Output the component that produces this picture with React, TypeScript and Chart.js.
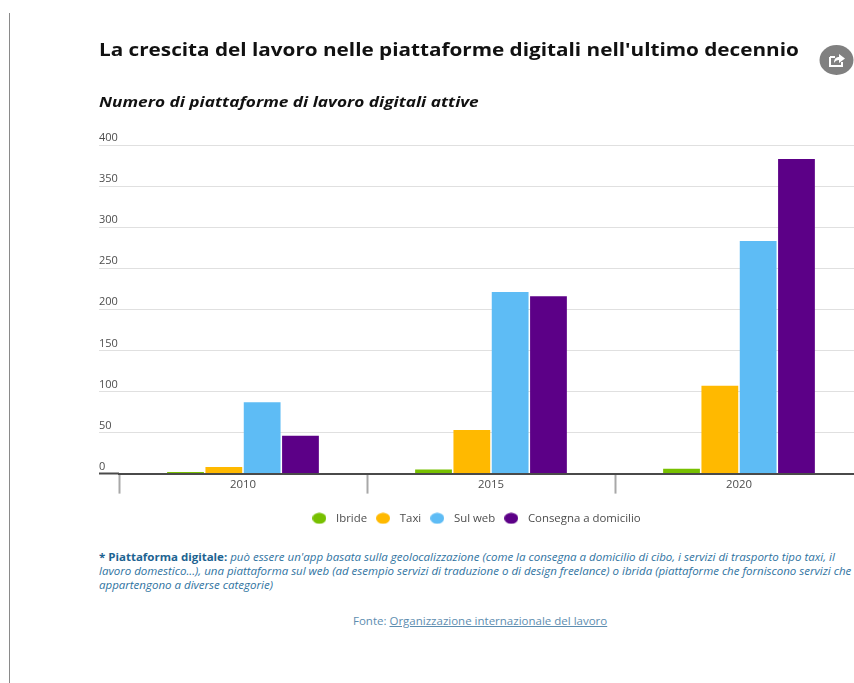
import React, { useEffect, useRef } from "react";
import { Chart, registerables } from "chart.js";

Chart.register(...registerables);

const years = ["2010", "2015", "2020"];
const ibride = [2, 5, 6];
const taxi = [8, 53, 107];
const sulWeb = [87, 221, 283];
const consegna = [46, 216, 383];
const yTicks = [0, 50, 100, 150, 200, 250, 300, 350, 400];
const seriesColors = ["#77c000", "#ffb900", "#5ebcf5", "#5c0087"];

const FONT = "'Open Sans', sans-serif";
const WIDE = 1.15;

// Moves the legend sideways so that it sits centred under the bars.
const legendNudge = {
  id: "legendNudge",
  afterLayout(chart: any) {
    const shift = -6.5;
    chart.legend.left += shift;
    chart.legend.right += shift;
    chart.legend.adjustHitBoxes();
  },
};

// Oval legend marker in the colour of a series.
function ovalMarker(color: string) {
  const c = document.createElement("canvas");
  c.width = 14;
  c.height = 12;
  const g = c.getContext("2d")!;
  g.fillStyle = color;
  g.beginPath();
  g.ellipse(7, 6, 7, 5.5, 0, 0, Math.PI * 2);
  g.fill();
  return c;
}

const wideText = { transform: `scaleX(${WIDE})`, transformOrigin: "0 0" } as const;

export default function App() {
  const ref = useRef<HTMLCanvasElement>(null);

  useEffect(() => {
    const barOpts = { categoryPercentage: 0.618, barPercentage: 0.96 };
    const markers = seriesColors.map(ovalMarker);
    const chart = new Chart(ref.current!, {
      type: "bar",
      data: {
        labels: years,
        datasets: [
          { label: "Ibride", data: ibride, backgroundColor: seriesColors[0], ...barOpts },
          { label: "Taxi", data: taxi, backgroundColor: seriesColors[1], ...barOpts },
          { label: "Sul web", data: sulWeb, backgroundColor: seriesColors[2], ...barOpts },
          { label: "Consegna a domicilio", data: consegna, backgroundColor: seriesColors[3], ...barOpts },
        ],
      },
      plugins: [legendNudge],
      options: {
        animation: false,
        responsive: false,
        maintainAspectRatio: false,
        layout: { padding: { left: 99, top: 145, right: 1, bottom: 0 } },
        plugins: {
          tooltip: { enabled: false },
          legend: {
            position: "bottom",
            labels: {
              usePointStyle: true,
              pointStyleWidth: 22,
              boxHeight: 12,
              padding: 5,
              color: "#4d4d4d",
              font: { family: FONT, size: 11.4 },
              generateLabels(c: any) {
                return Chart.defaults.plugins.legend.labels
                  .generateLabels(c)
                  .map((item: any, i: number) => ({ ...item, pointStyle: markers[i] }));
              },
            },
          },
        },
        scales: {
          x: {
            afterFit(scale: any) {
              scale.height = 34;
            },
            border: { color: "#4a4a4a", width: 2 },
            grid: {
              offset: true,
              drawOnChartArea: false,
              drawTicks: true,
              tickLength: 20,
              tickWidth: 2,
              tickColor: "#a8a8a8",
            },
            ticks: {
              color: "#4d4d4d",
              padding: -16,
              font: { family: FONT, size: 11.4 },
              maxRotation: 0,
            },
          },
          y: {
            min: 0,
            max: 400,
            afterBuildTicks(scale: any) {
              scale.ticks = yTicks.map((value) => ({ value }));
            },
            afterFit(scale: any) {
              scale.width = 20;
            },
            border: { display: false },
            grid: {
              color: "#e0e0e0",
              // The baseline carries on to the left edge of the tick labels.
              tickColor: (ctx: any) => (ctx.tick && ctx.tick.value === 0 ? "#4a4a4a" : "#e0e0e0"),
              tickWidth: (ctx: any) => (ctx.tick && ctx.tick.value === 0 ? 2 : 1),
              tickLength: 20,
              lineWidth: 1,
            },
            ticks: {
              crossAlign: "far",
              labelOffset: -7,
              padding: 0,
              color: "#4d4d4d",
              font: { family: FONT, size: 11 },
            },
          },
        },
      },
    });
    return () => chart.destroy();
  }, []);

  return (
    <div
      style={{
        position: "absolute",
        left: 0,
        top: 0,
        width: 854,
        height: 683,
        overflow: "hidden",
        background: "#fff",
        fontFamily: FONT,
      }}
    >
      <div style={{ position: "absolute", left: 9, top: 13, width: 1, height: 670, background: "#8a8a8a" }} />
      <canvas ref={ref} width={864} height={534} style={{ position: "absolute", left: 0, top: 0, width: 864, height: 534 }} />
      <div
        style={{
          position: "absolute",
          left: 99,
          top: 36,
          fontSize: 18,
          fontWeight: 700,
          color: "#111",
          whiteSpace: "nowrap",
          lineHeight: "26px",
          ...wideText,
        }}
      >
        La crescita del lavoro nelle piattaforme digitali nell'ultimo decennio
      </div>
      <svg style={{ position: "absolute", left: 819, top: 44 }} width={35} height={32} viewBox="0 0 35 32">
        <ellipse cx={17.5} cy={16} rx={17} ry={15} fill="#808080" />
        <path d="M11 13h5M11 13v9h12v-4" fill="none" stroke="#fff" strokeWidth={2} />
        <path d="M20 10l6 4.5-6 4.5v-3c-2 0-4 1-5 3 0-4 2-6 5-6z" fill="#fff" />
      </svg>
      <div
        style={{
          position: "absolute",
          left: 99,
          top: 90,
          fontSize: 15,
          fontWeight: 700,
          fontStyle: "italic",
          color: "#111",
          whiteSpace: "nowrap",
          lineHeight: "22px",
          ...wideText,
        }}
      >
        Numero di piattaforme di lavoro digitali attive
      </div>
      <div
        style={{
          position: "absolute",
          left: 99,
          top: 550,
          fontSize: 10,
          fontStyle: "italic",
          color: "#2f739f",
          whiteSpace: "nowrap",
          lineHeight: "14.2px",
          ...wideText,
        }}
      >
        <b style={{ fontStyle: "normal", color: "#1d6391" }}>* Piattaforma digitale:</b> può essere un'app basata sulla
        geolocalizzazione (come la consegna a domicilio di cibo, i servizi di trasporto tipo taxi, il
        <br />
        lavoro domestico...), una piattaforma sul web (ad esempio servizi di traduzione o di design freelance) o ibrida
        (piattaforme che forniscono servizi che
        <br />
        appartengono a diverse categorie)
      </div>
      <div
        style={{
          position: "absolute",
          left: 353,
          top: 613,
          fontSize: 10,
          color: "#5d8db0",
          whiteSpace: "nowrap",
          lineHeight: "16px",
          ...wideText,
        }}
      >
        Fonte: <span style={{ textDecoration: "underline" }}>Organizzazione internazionale del lavoro</span>
      </div>
    </div>
  );
}
